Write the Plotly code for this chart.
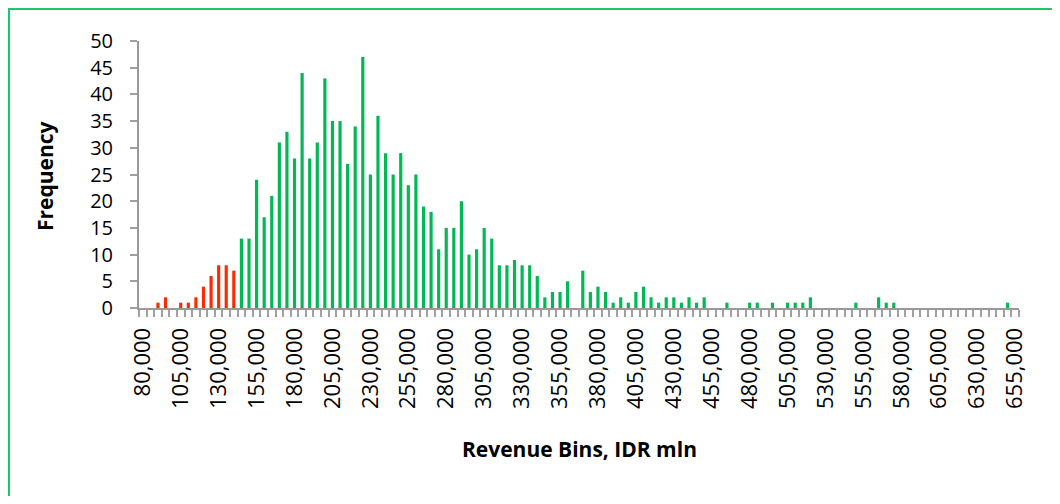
import plotly.graph_objects as go

# Data
bin_starts = list(range(80000, 655001, 5000))
frequency = [0, 0, 1, 2, 0, 1, 1, 2, 4, 6, 8, 8, 7,
             13, 13, 24, 17, 21, 31, 33, 28, 44, 28, 31, 43, 35, 35, 27, 34, 47,
             25, 36, 29, 25, 29, 23, 25, 19, 18, 11, 15, 15, 20, 10, 11, 15, 13,
             8, 8, 9, 8, 8, 6, 2, 3, 3, 5, 0, 7, 3, 4, 3, 1, 2, 1, 3, 4, 2, 1,
             2, 2, 1, 2, 1, 2, 0, 0, 1, 0, 0, 1, 1, 0, 1, 0, 1, 1, 1, 2,
             0, 0, 0, 0, 0, 1, 0, 0, 2, 1, 1,
             0, 0, 0, 0, 0, 0, 0, 0, 0, 0, 0, 0, 0, 0, 1, 0]
red_limit = 145000
y_ticks = [0, 5, 10, 15, 20, 25, 30, 35, 40, 45, 50]

categories = [f"{b:,}" for b in bin_starts]
tick_text = [c if i % 5 == 0 else "" for i, c in enumerate(categories)]
colors = ["#ff2a00" if b < red_limit else "#00b954" for b in bin_starts]

fig = go.Figure()
fig.add_trace(go.Bar(x=categories, y=frequency, marker=dict(color=colors, line=dict(width=0))))

# page has an 8px body margin; work in page pixels and subtract it
OFF = 8
W, H = 1050, 488
L = 139 - OFF
T = 41 - OFF
R = W - (1019 - OFF)
B = H - (308 - OFF)

fig.update_layout(
    width=W, height=H,
    margin=dict(l=L, r=R, t=T, b=B, pad=0),
    paper_bgcolor="white", plot_bgcolor="white",
    bargap=0.58, showlegend=False,
    font=dict(family="Open Sans", color="#000000"),
)
fig.update_xaxes(
    type="category", range=[-0.5, len(categories) - 0.5],
    tickmode="array", tickvals=categories, ticktext=tick_text,
    tickson="boundaries", ticks="outside", ticklen=7, tickwidth=2, tickcolor="#a0a0a0",
    tickangle=-90, tickfont=dict(size=22, family="Open Sans", color="#000000"),
    ticklabelstandoff=9,
    showline=True, linecolor="#999999", linewidth=2, showgrid=False, zeroline=False,
    automargin=False,
)
fig.update_yaxes(
    range=[0, 50], tickmode="array", tickvals=y_ticks,
    ticks="outside", ticklen=7, tickwidth=2, tickcolor="#a0a0a0",
    tickfont=dict(size=20, family="Open Sans", color="#000000"),
    ticklabelstandoff=13,
    showline=True, linecolor="#999999", linewidth=2, showgrid=False, zeroline=False,
    automargin=False,
)

pw, ph = W - L - R, H - T - B
def px_x(p):
    return (p - OFF - L) / pw
def px_y(p):
    return (H - B - (p - OFF)) / ph

fig.add_annotation(text="<b>Frequency</b>", xref="paper", yref="paper",
                   x=px_x(45), y=px_y(176), textangle=-90, showarrow=False,
                   xanchor="center", yanchor="middle",
                   font=dict(size=21, family="Open Sans", color="#000000"))
fig.add_annotation(text="<b>Revenue Bins, IDR mln</b>", xref="paper", yref="paper",
                   x=px_x(579), y=px_y(449), showarrow=False,
                   xanchor="center", yanchor="middle",
                   font=dict(size=21, family="Open Sans", color="#000000"))
fig.add_shape(type="rect", xref="paper", yref="paper",
              x0=px_x(OFF + 1), x1=px_x(1053), y0=px_y(560), y1=px_y(OFF + 1),
              line=dict(color="#1fc46b", width=2), fillcolor="rgba(0,0,0,0)", layer="below")

fig.write_html("out.html")
